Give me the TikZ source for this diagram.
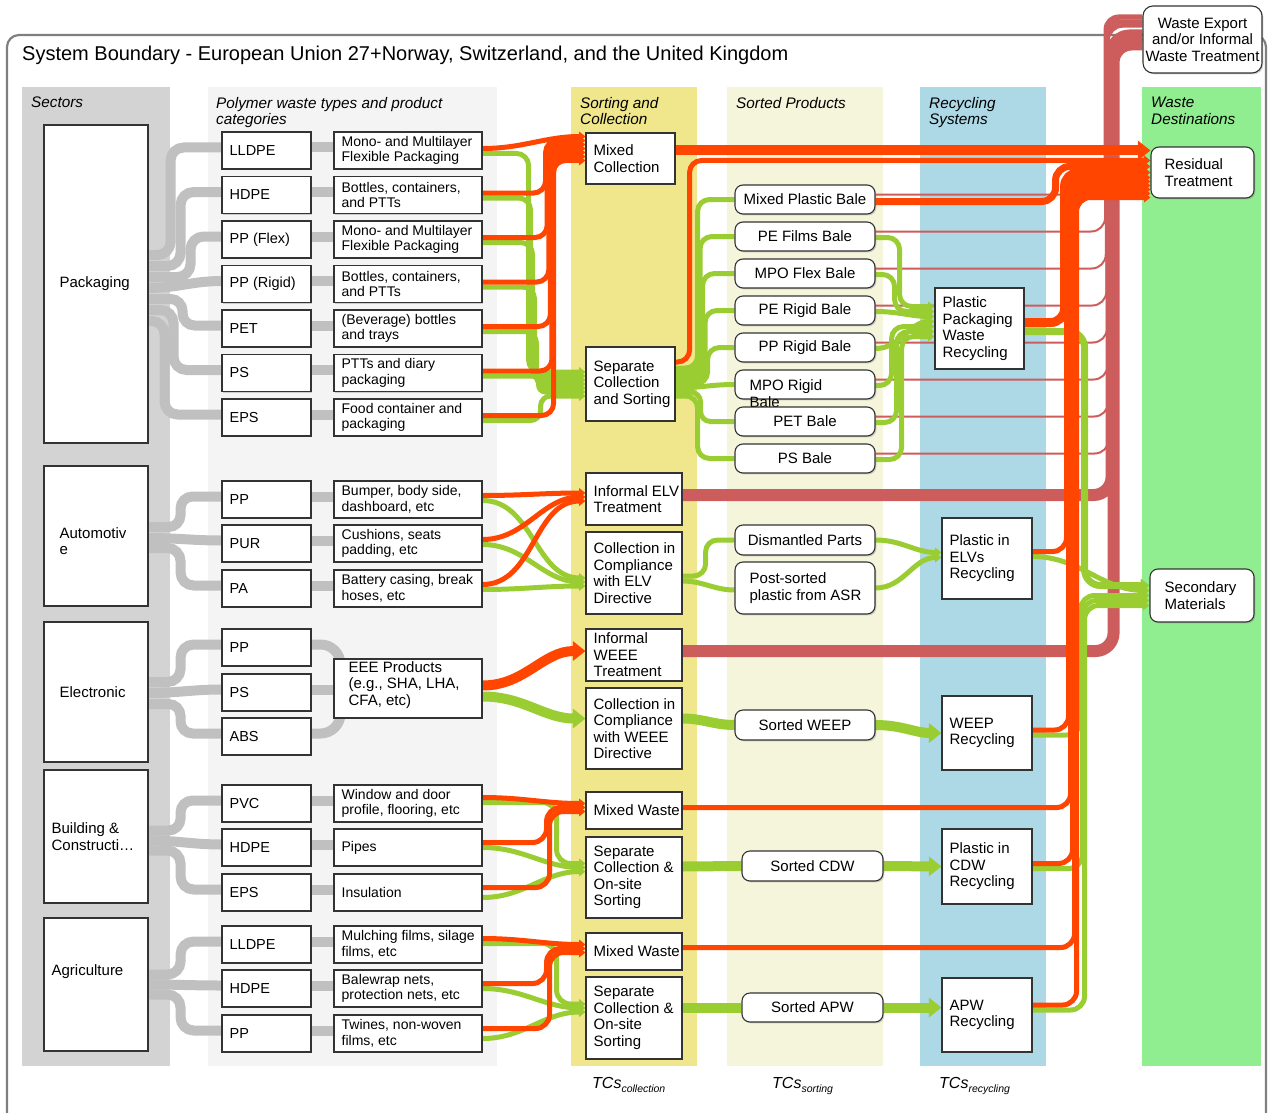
\documentclass[tikz,border=0pt]{standalone}
\usepackage{fontspec}
\setmainfont{Liberation Sans}
\usetikzlibrary{calc,arrows.meta,shadows}

\definecolor{orangered}{HTML}{FF4500}
\definecolor{ygreen}{HTML}{9ACD32}
\definecolor{ired}{HTML}{CD5C5C}
\definecolor{silverflow}{HTML}{C0C0C0}
\definecolor{seccol}{HTML}{D3D3D3}
\definecolor{polycol}{HTML}{F4F4F4}
\definecolor{sortcol}{HTML}{F0E68C}
\definecolor{prodcol}{HTML}{F5F5DC}
\definecolor{recycol}{HTML}{ADD8E6}
\definecolor{destcol}{HTML}{90EE90}
\definecolor{edge}{HTML}{333333}
\definecolor{framecol}{HTML}{7F7F7F}

\pgfdeclarelayer{bg}
\pgfdeclarelayer{flow}
\pgfsetlayers{bg,flow,main}

\newcommand\nf{\fontsize{15}{16.5}\selectfont}
\newcommand\qf{\fontsize{14.5}{16.5}\selectfont}
\newcommand\pf{\fontsize{14}{15.5}\selectfont}

% box from (x1,y1) to (x2,y2) with centred text
\newcommand\boxat[7][]{%
  \pgfmathsetmacro\bW{#5-#3}\pgfmathsetmacro\bH{#6-#4}%
  \pgfmathsetmacro\bCX{(#3+#5)/2}\pgfmathsetmacro\bCY{(#4+#6)/2}%
  \node[minimum width=\bW pt,minimum height=\bH pt,#1] (#2) at (\bCX,\bCY) {#7};}
% box with left aligned text placed #8 from its left side
\newcommand\lboxat[9][]{%
  \boxat[#2]{#3}{#4}{#5}{#6}{#7}{}%
  \node[anchor=west,align=left,inner sep=0pt,#1] (#3-t) at ($(#3.west)+(#8,0)$) {#9};}

\begin{document}
\begin{tikzpicture}[x=1pt,y=-1pt,
  every node/.style={font=\nf},
  box/.style={draw=edge,fill=white,line width=1.1pt,inner sep=0pt,
    drop shadow={shadow xshift=1.4pt,shadow yshift=-1.4pt,opacity=0.35}},
  rbox/.style={box,rounded corners=8pt},
  hdr/.style={anchor=north west,inner sep=0pt,align=left,font=\fontsize{15.3}{16.5}\selectfont\itshape},
  sflow/.style={draw=silverflow,line width=10pt},
  of/.style={draw=orangered,line width=5pt},
  gf/.style={draw=ygreen,line width=5pt},
  rf/.style={draw=ired,line width=2pt},
  arr/.style={-{Triangle[length=0pt 1.25,width=0pt 1.9]}},
  tcs/.style={anchor=base west,inner sep=0pt,font=\fontsize{16}{18}\selectfont\itshape}]

\useasboundingbox (0,0) rectangle (1269,1113);

\begin{pgfonlayer}{bg}
  \draw[framecol,line width=2.2pt,rounded corners=12pt] (7,35) rectangle (1266,1140);
  \fill[seccol] (22,87) rectangle (170,1066);
  \fill[polycol] (208,87) rectangle (497,1066);
  \fill[sortcol] (571,87) rectangle (697,1066);
  \fill[prodcol] (727,87) rectangle (883,1066);
  \fill[recycol] (920,87) rectangle (1046,1066);
  \fill[destcol] (1142,87) rectangle (1261,1066);
\end{pgfonlayer}

% titles
\node[anchor=base west,inner sep=0pt,font=\fontsize{20}{23}\selectfont] (title) at (22,61)
  {System Boundary - European Union 27+Norway, Switzerland, and the United Kingdom};
\node[hdr] (h-sec) at (31,97) {Sectors};
\node[hdr] (h-poly) at (216,97) {Polymer waste types and product\\categories};
\node[hdr] (h-sort) at (580,97) {Sorting and\\Collection};
\node[hdr] (h-prod) at (736,97) {Sorted Products};
\node[hdr] (h-rec) at (929,97) {Recycling\\Systems};
\node[hdr] (h-dest) at (1151,97) {Waste\\Destinations};

% sectors
\lboxat{box}{pack}{44}{125}{148}{443}{16}{Packaging}
\lboxat[yshift=-5pt]{box}{auto}{44}{466}{148}{606}{16}{Automotiv\\e}
\lboxat{box}{elec}{44}{622}{148}{762}{16}{Electronic}
\lboxat{box}{build}{44}{770}{148}{903}{8}{Building \&\\Constructi…}
\lboxat[yshift=13pt]{box}{agri}{44}{918}{148}{1051}{8}{Agriculture}

% polymers
\lboxat[font=\qf]{box}{p1}{222}{132}{311}{169}{8}{LLDPE}
\lboxat[font=\qf]{box}{p2}{222}{176.5}{311}{213.5}{8}{HDPE}
\lboxat[font=\qf]{box}{p3}{222}{221}{311}{258}{8}{PP (Flex)}
\lboxat[font=\qf]{box}{p4}{222}{265.5}{311}{302.5}{8}{PP (Rigid)}
\lboxat[font=\qf]{box}{p5}{222}{310}{311}{347}{8}{PET}
\lboxat[font=\qf]{box}{p6}{222}{354.5}{311}{391.5}{8}{PS}
\lboxat[font=\qf]{box}{p7}{222}{399}{311}{436}{8}{EPS}
\lboxat[font=\qf]{box}{a1}{222}{481}{311}{518}{8}{PP}
\lboxat[font=\qf]{box}{a2}{222}{525}{311}{562}{8}{PUR}
\lboxat[font=\qf]{box}{a3}{222}{570}{311}{607}{8}{PA}
\lboxat[font=\qf]{box}{e1}{222}{629}{311}{666}{8}{PP}
\lboxat[font=\qf]{box}{e2}{222}{674}{311}{711}{8}{PS}
\lboxat[font=\qf]{box}{e3}{222}{718}{311}{755}{8}{ABS}
\lboxat[font=\qf]{box}{b1}{222}{785}{311}{822}{8}{PVC}
\lboxat[font=\qf]{box}{b2}{222}{829}{311}{866}{8}{HDPE}
\lboxat[font=\qf]{box}{b3}{222}{874}{311}{911}{8}{EPS}
\lboxat[font=\qf]{box}{g1}{222}{926}{311}{963}{8}{LLDPE}
\lboxat[font=\qf]{box}{g2}{222}{970}{311}{1007}{8}{HDPE}
\lboxat[font=\qf]{box}{g3}{222}{1015}{311}{1052}{8}{PP}

% product categories
\lboxat[font=\pf]{box}{c1}{334}{132}{482}{169}{8}{Mono- and Multilayer\\Flexible Packaging}
\lboxat[font=\pf]{box}{c2}{334}{176.5}{482}{213.5}{8}{Bottles, containers,\\and PTTs}
\lboxat[font=\pf]{box}{c3}{334}{221}{482}{258}{8}{Mono- and Multilayer\\Flexible Packaging}
\lboxat[font=\pf]{box}{c4}{334}{265.5}{482}{302.5}{8}{Bottles, containers,\\and PTTs}
\lboxat[font=\pf]{box}{c5}{334}{310}{482}{347}{8}{(Beverage) bottles\\and trays}
\lboxat[font=\pf]{box}{c6}{334}{354.5}{482}{391.5}{8}{PTTs and diary\\packaging}
\lboxat[font=\pf]{box}{c7}{334}{399}{482}{436}{8}{Food container and\\packaging}
\lboxat[font=\pf]{box}{ca1}{334}{481}{482}{518}{8}{Bumper, body side,\\dashboard, etc}
\lboxat[font=\pf]{box}{ca2}{334}{525}{482}{562}{8}{Cushions, seats\\padding, etc}
\lboxat[font=\pf]{box}{ca3}{334}{570}{482}{607}{8}{Battery casing, break\\hoses, etc}
\lboxat[yshift=3.5pt]{box}{eee}{334}{659}{482}{718}{15}{EEE Products\\(e.g., SHA, LHA,\\CFA, etc)}
\lboxat[font=\pf]{box}{cb1}{334}{785}{482}{822}{8}{Window and door\\profile, flooring, etc}
\lboxat[font=\pf]{box}{cb2}{334}{829}{482}{866}{8}{Pipes}
\lboxat[font=\pf]{box}{cb3}{334}{874}{482}{911}{8}{Insulation}
\lboxat[font=\pf]{box}{cg1}{334}{926}{482}{963}{8}{Mulching films, silage\\films, etc}
\lboxat[font=\pf]{box}{cg2}{334}{970}{482}{1007}{8}{Balewrap nets,\\protection nets, etc}
\lboxat[font=\pf]{box}{cg3}{334}{1015}{482}{1052}{8}{Twines, non-woven\\films, etc}

% sorting and collection
\lboxat{box}{mc}{586}{133}{675}{184}{8}{Mixed\\Collection}
\lboxat{box}{sc}{586}{347}{675}{421}{8}{Separate\\Collection\\and Sorting}
\lboxat{box}{ielv}{586}{473}{682}{525}{8}{Informal ELV\\Treatment}
\lboxat{box}{celv}{586}{532}{682}{614}{8}{Collection in\\Compliance\\with ELV\\Directive}
\lboxat{box}{iw}{586}{629}{682}{681}{8}{Informal\\WEEE\\Treatment}
\lboxat{box}{cw}{586}{688}{682}{769}{8}{Collection in\\Compliance\\with WEEE\\Directive}
\lboxat{box}{mwb}{586}{792}{682}{829}{8}{Mixed Waste}
\lboxat{box}{scob}{586}{837}{682}{918}{8}{Separate\\Collection \&\\On-site\\Sorting}
\lboxat{box}{mwa}{586}{933}{682}{970}{8}{Mixed Waste}
\lboxat{box}{scoa}{586}{977}{682}{1059}{8}{Separate\\Collection \&\\On-site\\Sorting}

% sorted products
\boxat[rbox]{mpb}{735}{185}{875}{214}{Mixed Plastic Bale}
\boxat[rbox]{pef}{735}{222}{875}{251}{PE Films Bale}
\boxat[rbox]{mpof}{735}{259}{875}{288}{MPO Flex Bale}
\boxat[rbox]{per}{735}{296}{875}{325}{PE Rigid Bale}
\boxat[rbox]{ppr}{735}{333}{875}{362}{PP Rigid Bale}
\lboxat[yshift=-9pt]{rbox}{mpor}{735}{370}{875}{399}{15}{MPO Rigid\\Bale}
\boxat[rbox]{pet}{735}{407}{875}{436}{PET Bale}
\boxat[rbox]{psb}{735}{444}{875}{473}{PS Bale}
\boxat[rbox]{dp}{735}{525}{875}{555}{Dismantled Parts}
\lboxat{rbox}{psa}{735}{562}{875}{614}{15}{Post-sorted\\plastic from ASR}
\boxat[rbox]{sw}{735}{710}{875}{740}{Sorted WEEP}
\boxat[rbox]{scdw}{742}{851}{883}{881}{Sorted CDW}
\boxat[rbox]{sapw}{742}{993}{883}{1022}{Sorted APW}

% recycling systems
\lboxat{box}{ppwr}{935}{288}{1024}{369}{8}{Plastic\\Packaging\\Waste\\Recycling}
\lboxat{box}{pelv}{942}{518}{1032}{599}{8}{Plastic in\\ELVs\\Recycling}
\lboxat{box}{wr}{942}{696}{1032}{770}{8}{WEEP\\Recycling}
\lboxat{box}{cdwr}{942}{829}{1032}{904}{8}{Plastic in\\CDW\\Recycling}
\lboxat{box}{apwr}{942}{978}{1032}{1052}{8}{APW\\Recycling}

% destinations
\lboxat{rbox}{rt}{1151}{147}{1254}{198}{14}{Residual\\Treatment}
\lboxat{rbox}{sm}{1150}{569}{1254}{622}{15}{Secondary\\Materials}
\boxat[rbox,rounded corners=10pt,align=center]{we}{1143}{6}{1262}{73}{Waste Export\\and/or Informal\\Waste Treatment}

% transfer coefficient labels
\node[tcs] (tc-col) at (592,1088) {TCs\raisebox{-4pt}{\fontsize{10.5}{12}\selectfont collection}};
\node[tcs] (tc-sort) at (772,1088) {TCs\raisebox{-4pt}{\fontsize{10.5}{12}\selectfont sorting}};
\node[tcs] (tc-rec) at (939,1088) {TCs\raisebox{-4pt}{\fontsize{10.5}{12}\selectfont recycling}};

\begin{pgfonlayer}{flow}
% ---- sectors to polymers
\draw[sflow,rounded corners=13pt] ($(pack.east)+(0,-29)$) -- ++(22,0) |- ($(p1.west)+(0,-3)$);
\draw[sflow,rounded corners=13pt] ($(pack.east)+(0,-18)$) -- ++(32,0) |- ($(p2.west)+(0,-3)$);
\draw[sflow,rounded corners=13pt] ($(pack.east)+(0,-7)$) -- ++(42,0) |- ($(p3.west)+(0,-3)$);
\draw[sflow] ($(pack.east)+(0,4)$) to[out=0,in=180] ($(p4.west)+(0,-3)$);
\draw[sflow,rounded corners=12pt] ($(pack.east)+(0,15)$) -- ++(34,0) |- ($(p5.west)+(0,-3)$);
\draw[sflow,rounded corners=13pt] ($(pack.east)+(0,26)$) -- ++(25,0) |- ($(p6.west)+(0,-3)$);
\draw[sflow,rounded corners=13pt] ($(pack.east)+(0,37)$) -- ++(16,0) |- ($(p7.west)+(0,-3)$);

\draw[sflow,rounded corners=12pt] ($(auto.east)+(0,-9)$) -- ++(32,0) |- ($(a1.west)+(0,-3)$);
\draw[sflow] ($(auto.east)+(0,2)$) to[out=0,in=180] ($(a2.west)+(0,-3)$);
\draw[sflow,rounded corners=13pt] ($(auto.east)+(0,12)$) -- ++(32,0) |- ($(a3.west)+(0,-3)$);

\draw[sflow,rounded corners=13pt] ($(elec.east)+(0,-10)$) -- ++(32,0) |- ($(e1.west)+(0,-3)$);
\draw[sflow] ($(elec.east)+(0,1)$) to[out=0,in=180] ($(e2.west)+(0,-3)$);
\draw[sflow,rounded corners=12pt] ($(elec.east)+(0,12)$) -- ++(32,0) |- ($(e3.west)+(0,-3)$);

\draw[sflow,rounded corners=12pt] ($(build.east)+(0,-6)$) -- ++(32,0) |- ($(b1.west)+(0,-3)$);
\draw[sflow] ($(build.east)+(0,4)$) to[out=0,in=180] ($(b2.west)+(0,-3)$);
\draw[sflow,rounded corners=13pt] ($(build.east)+(0,14)$) -- ++(32,0) |- ($(b3.west)+(0,-3)$);

\draw[sflow,rounded corners=13pt] ($(agri.east)+(0,-10)$) -- ++(32,0) |- ($(g1.west)+(0,-3)$);
\draw[sflow] ($(agri.east)+(0,0)$) to[out=0,in=180] ($(g2.west)+(0,-3)$);
\draw[sflow,rounded corners=13pt] ($(agri.east)+(0,10)$) -- ++(32,0) |- ($(g3.west)+(0,-3)$);

% ---- polymers to product categories
\foreach \a/\b in {p1/c1,p2/c2,p3/c3,p4/c4,p5/c5,p6/c6,p7/c7,a1/ca1,a2/ca2,a3/ca3,
                   b1/cb1,b2/cb2,b3/cb3,g1/cg1,g2/cg2,g3/cg3}
  \draw[sflow] ($(\a.east)+(0,-3)$) -- ($(\b.west)+(0,-3)$);
\draw[sflow,rounded corners=20pt] ($(e1.east)+(0,-3)$) -- ++(29,0) -- ++(0,45);
\draw[sflow] ($(e2.east)+(0,-3)$) -- ($(eee.west)+(0,1)$);
\draw[sflow,rounded corners=20pt] ($(e3.east)+(0,-3)$) -- ++(29,0) -- ++(0,-45);

% ---- flows to waste export / informal treatment
\foreach \n [count=\k from 0] in {mpb,pef,mpof,per,ppr,mpor,pet,psb}{
  \pgfmathsetmacro\dX{229+0.6*\k}\pgfmathsetmacro\rT{-24+1.6*\k}
  \draw[rf,rounded corners=14pt] ($(\n.east)+(0,-5)$) -- ++(\dX,0) |- ($(we.west)+(0,\rT)$);}
\draw[rf,line width=12pt,rounded corners=18pt] ($(ielv.east)+(0,-4)$) -- ++(429,0) |- ($(we.west)+(0,-4)$);
\draw[rf,line width=12pt,rounded corners=18pt] ($(iw.east)+(0,-4)$) -- ++(431,0) |- ($(we.west)+(0,5)$);

% ---- separately collected (green) flows
\foreach \i/\d/\t/\r in {1/46/-12/12,2/48/-8/12,3/50/-4/12,4/52/0/12,5/54/4/12,6/56/8/7,7/58/12/10}
  \draw[gf,arr,rounded corners=\r pt] ($(c\i.east)+(0,3)$) -- ++(\d,0) |- ($(sc.west)+(0,\t)$);
\foreach \i/\t in {1/5,2/9,3/13}
  \draw[gf,arr] ($(ca\i.east)+(0,1)$) to[out=0,in=180] ($(celv.west)+(0,\t)$);
\draw[gf,arr,line width=10pt] ($(eee.east)+(0,8)$) to[out=0,in=180] ($(cw.west)+(0,-10)$);
\draw[gf,arr,rounded corners=14pt] ($(cb1.east)+(0,-1)$) -- ++(74,0) |- ($(scob.west)+(0,-14)$);
\draw[gf,arr] (cb2.east) to[out=0,in=180] ($(scob.west)+(0,-10)$);
\draw[gf,arr] ($(cb3.east)+(0,5)$) to[out=0,in=180] ($(scob.west)+(0,-6)$);
\draw[gf,arr,rounded corners=14pt] ($(cg1.east)+(0,-1)$) -- ++(74,0) |- ($(scoa.west)+(0,-14)$);
\draw[gf,arr] (cg2.east) to[out=0,in=180] ($(scoa.west)+(0,-10)$);
\draw[gf,arr] ($(cg3.east)+(0,5)$) to[out=0,in=180] ($(scoa.west)+(0,-6)$);

% separate collection to bales
\draw[gf,rounded corners=12pt] ($(sc.east)+(0,-16)$) -- ++(22,0) |- (mpb.west);
\draw[gf,rounded corners=12pt] ($(sc.east)+(0,-12)$) -- ++(24.5,0) |- (pef.west);
\draw[gf,rounded corners=12pt] ($(sc.east)+(0,-8)$) -- ++(27,0) |- (mpof.west);
\draw[gf,rounded corners=12pt] ($(sc.east)+(0,-4)$) -- ++(29.5,0) |- (per.west);
\draw[gf,rounded corners=12pt] ($(sc.east)+(0,0)$) -- ++(32,0) |- (ppr.west);
\draw[gf] ($(sc.east)+(0,4)$) to[out=0,in=180] (mpor.west);
\draw[gf,rounded corners=10pt] ($(sc.east)+(0,8)$) -- ++(25,0) |- (pet.west);
\draw[gf,rounded corners=12pt] ($(sc.east)+(0,12)$) -- ++(22,0) |- (psb.west);

% bales to packaging recycling
\draw[gf,arr,rounded corners=12pt] ($(pef.east)+(0,1)$) -- ++(24,0) |- ($(ppwr.west)+(0,-22)$);
\draw[gf,arr,rounded corners=12pt] ($(mpof.east)+(0,1)$) -- ++(19,0) |- ($(ppwr.west)+(0,-17)$);
\draw[gf,arr] ($(per.east)+(0,1)$) to[out=0,in=180] ($(ppwr.west)+(0,-12)$);
\draw[gf,arr] ($(ppr.east)+(0,1)$) to[out=0,in=180] ($(ppwr.west)+(0,-7)$);
\draw[gf,arr,rounded corners=12pt] ($(mpor.east)+(0,1)$) -- ++(16,0) |- ($(ppwr.west)+(0,-2)$);
\draw[gf,arr,rounded corners=12pt] ($(pet.east)+(0,1)$) -- ++(21,0) |- ($(ppwr.west)+(0,3)$);
\draw[gf,arr,rounded corners=12pt] ($(psb.east)+(0,1)$) -- ++(26,0) |- ($(ppwr.west)+(0,8)$);

% ELV chain
\draw[gf,rounded corners=12pt] ($(celv.east)+(0,3)$) -- ++(23,0) |- (dp.west);
\draw[gf] ($(celv.east)+(0,8)$) to[out=0,in=180] ($(psa.west)+(0,2)$);
\draw[gf,arr] (dp.east) to[out=0,in=180] ($(pelv.west)+(0,-6)$);
\draw[gf,arr] (psa.east) to[out=0,in=180] ($(pelv.west)+(0,-1)$);

% WEEE, CDW and APW chains
\draw[gf,line width=10pt] ($(cw.east)+(0,-10)$) to[out=0,in=180] (sw.west);
\draw[gf,arr,line width=10pt] (sw.east) to[out=0,in=180] (wr.west);
\draw[gf,line width=10pt] ($(scob.east)+(0,-11)$) -- (scdw.west);
\draw[gf,arr,line width=10pt] (scdw.east) -- (cdwr.west);
\draw[gf,line width=10pt] ($(scoa.east)+(0,-10.5)$) -- (sapw.west);
\draw[gf,arr,line width=10pt] (sapw.east) -- ($(apwr.west)+(0,-7.5)$);

% recycling to secondary materials
\draw[gf,arr,line width=7pt,rounded corners=16pt] ($(ppwr.east)+(0,3)$) -- ++(60,0) |- ($(sm.west)+(0,-10)$);
\draw[gf,arr] ($(pelv.east)+(0,-2)$) to[out=0,in=180] ($(sm.west)+(0,-5)$);
\draw[gf,arr,rounded corners=14pt] ($(wr.east)+(0,2)$) -- ++(48,0) |- (sm.west);
\draw[gf,arr,rounded corners=14pt] ($(cdwr.east)+(0,2)$) -- ++(50,0) |- ($(sm.west)+(0,5)$);
\draw[gf,arr,rounded corners=14pt] ($(apwr.east)+(0,-5)$) -- ++(52,0) |- ($(sm.west)+(0,10)$);

% ---- mixed / residual (orange) flows
\draw[of,arr] ($(c1.east)+(0,-2)$) to[out=0,in=180] ($(mc.west)+(0,-22)$);
\foreach \i/\d/\t in {2/63/-18,3/64.6/-14,4/66.2/-10,5/67.8/-6,6/69.4/-2,7/71/2}
  \draw[of,arr,rounded corners=12pt] ($(c\i.east)+(0,-2)$) -- ++(\d,0) |- ($(mc.west)+(0,\t)$);
\foreach \i/\t in {1/-6,2/-2,3/2}
  \draw[of,arr] ($(ca\i.east)+(0,-4)$) to[out=0,in=180] ($(ielv.west)+(0,\t)$);
\draw[of,arr,line width=10pt] ($(eee.east)+(0,-3)$) to[out=0,in=180] ($(iw.west)+(0,-4)$);
\draw[of,arr] ($(cb1.east)+(0,-6)$) to[out=0,in=180] ($(mwb.west)+(0,-7)$);
\draw[of,arr,rounded corners=14pt] ($(cb2.east)+(0,-5)$) -- ++(64,0) |- ($(mwb.west)+(0,-3)$);
\draw[of,arr,rounded corners=14pt] ($(cb3.east)+(0,-5)$) -- ++(67,0) |- ($(mwb.west)+(0,1)$);
\draw[of,arr] ($(cg1.east)+(0,-6)$) to[out=0,in=180] ($(mwa.west)+(0,-7)$);
\draw[of,arr,rounded corners=14pt] ($(cg2.east)+(0,-5)$) -- ++(64,0) |- ($(mwa.west)+(0,-3)$);
\draw[of,arr,rounded corners=14pt] ($(cg3.east)+(0,-5)$) -- ++(67,0) |- ($(mwa.west)+(0,1)$);

% to residual treatment
\draw[of,arr,line width=10pt] ($(mc.east)+(0,-8)$) -- ($(rt.west)+(0,-22)$);
\draw[of,arr,rounded corners=12pt] ($(sc.east)+(0,-22)$) -- ++(14,0) |- ($(rt.west)+(0,-12)$);
\draw[of,arr,line width=7pt,rounded corners=14pt] ($(mpb.east)+(0,2)$) -- ++(180,0) |- ($(rt.west)+(0,-6)$);
\draw[of,arr,line width=9pt,rounded corners=14pt] ($(ppwr.east)+(0,-6)$) -- ++(40,0) |- (rt.west);
\draw[of,arr,rounded corners=14pt] ($(pelv.east)+(0,-7)$) -- ++(34,0) |- ($(rt.west)+(0,5)$);
\draw[of,arr,rounded corners=14pt] ($(wr.east)+(0,-3)$) -- ++(36,0) |- ($(rt.west)+(0,9)$);
\draw[of,arr,rounded corners=14pt] ($(mwb.east)+(0,-3)$) -- ++(388,0) |- ($(rt.west)+(0,13)$);
\draw[of,arr,rounded corners=14pt] ($(cdwr.east)+(0,-3)$) -- ++(40,0) |- ($(rt.west)+(0,17)$);
\draw[of,arr,rounded corners=14pt] ($(mwa.east)+(0,-4)$) -- ++(392,0) |- ($(rt.west)+(0,21)$);
\draw[of,arr,rounded corners=14pt] ($(apwr.east)+(0,-10)$) -- ++(44,0) |- ($(rt.west)+(0,25)$);
\end{pgfonlayer}
\end{tikzpicture}
\end{document}
